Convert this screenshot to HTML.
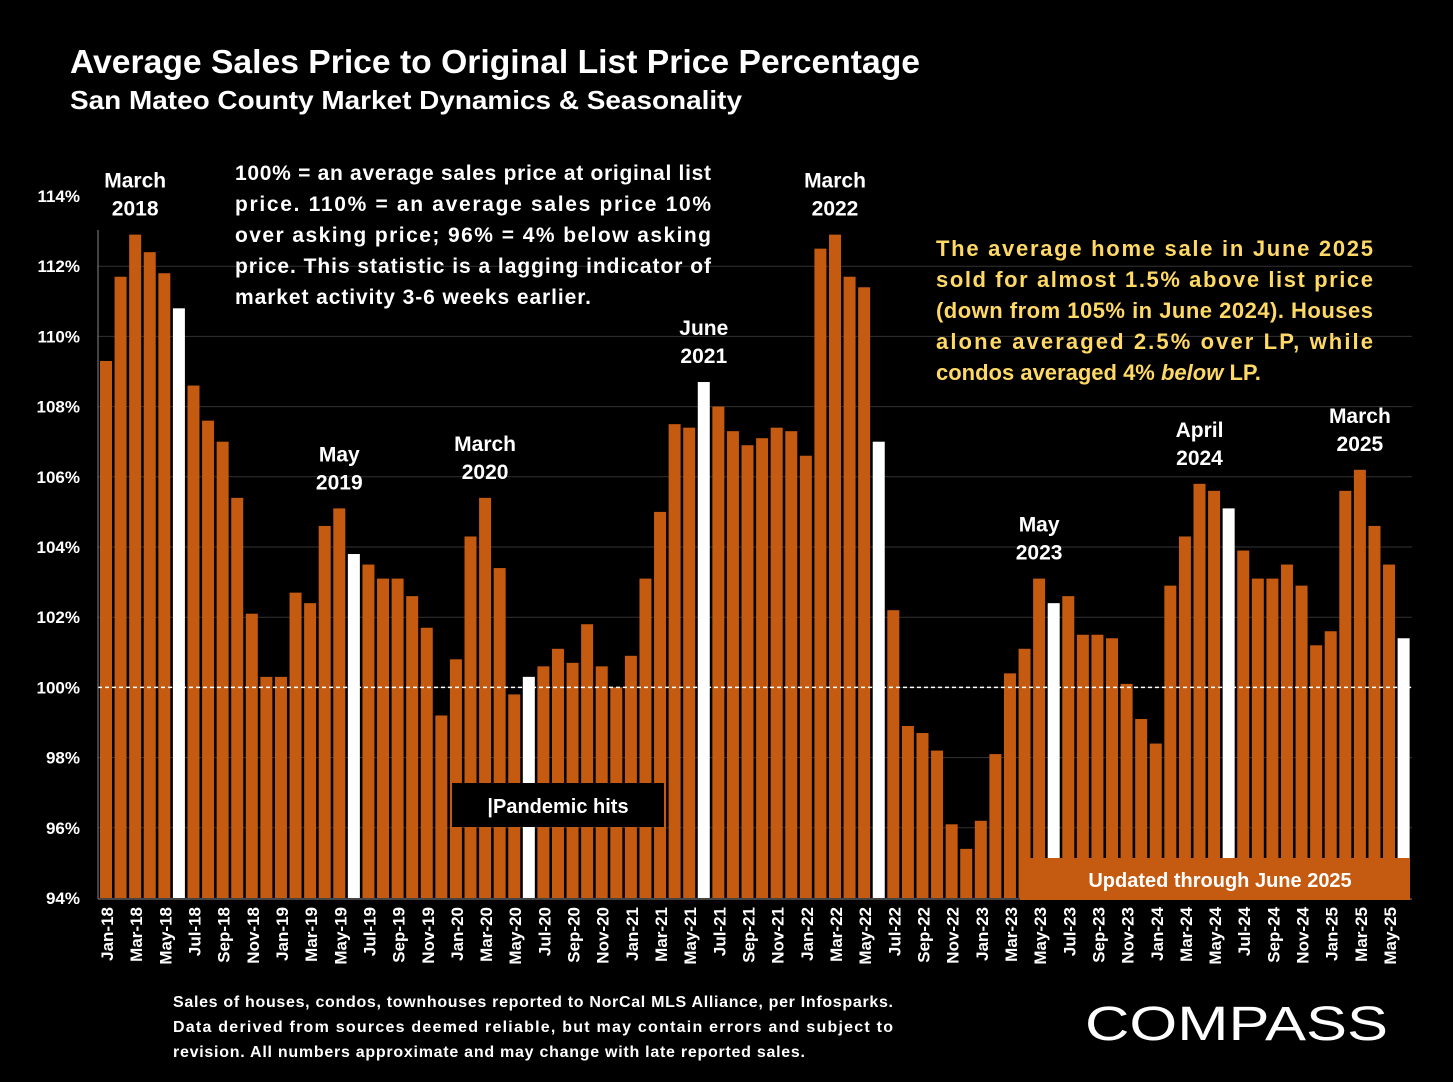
<!DOCTYPE html>
<html><head><meta charset="utf-8"><style>
body{margin:0;background:#000;width:1453px;height:1082px;overflow:hidden;font-family:"Liberation Sans",sans-serif;color:#fff}
svg{position:absolute;left:0;top:0}
</style></head><body>
<svg width="1453" height="1082" id="svg" xmlns="http://www.w3.org/2000/svg">
<text x="70" y="73" font-size="33" font-weight="bold" fill="#fff" textLength="850" lengthAdjust="spacingAndGlyphs">Average Sales Price to Original List Price Percentage</text>
<text x="70" y="109" font-size="26" font-weight="bold" fill="#fff" textLength="672" lengthAdjust="spacingAndGlyphs">San Mateo County Market Dynamics &amp; Seasonality</text>
<g id="grid"></g><g id="bars"></g><g id="labels"></g>
<rect x="452" y="783" width="212" height="44" fill="#000"/>
<text x="558" y="813" font-size="20" font-weight="bold" fill="#fff" text-anchor="middle">|Pandemic hits</text>
<rect x="1020" y="858" width="390" height="42" fill="#C55A11"/>
<text x="1220" y="887" font-size="20" font-weight="bold" fill="#fff" text-anchor="middle">Updated through June 2025</text>
<g font-size="21" font-weight="bold" fill="#fff">
<text x="235" y="180" textLength="476">100% = an average sales price at original list</text>
<text x="235" y="211" textLength="476">price. 110% = an average sales price 10%</text>
<text x="235" y="242" textLength="476">over asking price; 96% = 4% below asking</text>
<text x="235" y="273" textLength="476">price. This statistic is a lagging indicator of</text>
<text x="235" y="304" textLength="356">market activity 3-6 weeks earlier.</text>
</g>
<g font-size="22" font-weight="bold" fill="#FFD966">
<text x="936" y="256" textLength="437">The average home sale in June 2025</text>
<text x="936" y="287" textLength="437">sold for almost 1.5% above list price</text>
<text x="936" y="318" textLength="437">(down from 105% in June 2024). Houses</text>
<text x="936" y="349" textLength="437">alone averaged 2.5% over LP, while</text>
<text x="936" y="380">condos averaged 4% <tspan font-style="italic">below</tspan> LP.</text>
</g>
<g font-size="16" font-weight="bold" fill="#fff">
<text x="173" y="1007" textLength="720">Sales of houses, condos, townhouses reported to NorCal MLS Alliance, per Infosparks.</text>
<text x="173" y="1032" textLength="720">Data derived from sources deemed reliable, but may contain errors and subject to</text>
<text x="173" y="1057" textLength="632">revision. All numbers approximate and may change with late reported sales.</text>
</g>
<text x="1085" y="1040" font-size="48" fill="#fff" textLength="303" lengthAdjust="spacingAndGlyphs">COMPASS</text>
</svg>
<script>
const values=[109.3,111.7,112.9,112.4,111.8,110.8,108.6,107.6,107.0,105.4,102.1,100.3,
100.3,102.7,102.4,104.6,105.1,103.8,103.5,103.1,103.1,102.6,101.7,99.2,
100.8,104.3,105.4,103.4,99.8,100.3,100.6,101.1,100.7,101.8,100.6,100.0,
100.9,103.1,105.0,107.5,107.4,108.7,108.0,107.3,106.9,107.1,107.4,107.3,
106.6,112.5,112.9,111.7,111.4,107.0,102.2,98.9,98.7,98.2,96.1,95.4,
96.2,98.1,100.4,101.1,103.1,102.4,102.6,101.5,101.5,101.4,100.1,99.1,
98.4,102.9,104.3,105.8,105.6,105.1,103.9,103.1,103.1,103.5,102.9,101.2,
101.6,105.6,106.2,104.6,103.5,101.4];
const months=['Jan','Feb','Mar','Apr','May','Jun','Jul','Aug','Sep','Oct','Nov','Dec'];
const yTicks=[94,96,98,100,102,104,106,108,110,112,114];
const annotations=[[2,'March','2018'],[16,'May','2019'],[26,'March','2020'],[41,'June','2021'],[50,'March','2022'],[64,'May','2023'],[75,'April','2024'],[86,'March','2025']];
const NS='http://www.w3.org/2000/svg';
const y=v=>898-(v-94)*35.1;
const x=i=>100+i*14.58;
function mk(t,a,p){const e=document.createElementNS(NS,t);for(const k in a)e.setAttribute(k,a[k]);p.appendChild(e);return e;}
const grid=document.getElementById('grid'),bars=document.getElementById('bars'),labels=document.getElementById('labels');
yTicks.forEach(t=>{
  if(t>94&&t<114){const l=mk('line',{x1:98,x2:1412,y1:y(t),y2:y(t),stroke:'#333','stroke-width':1},grid);
  
  }
  const tx=mk('text',{x:80,y:y(t)+6,'font-size':17,'font-weight':'bold',fill:'#fff','text-anchor':'end'},labels);
  tx.textContent=t+'%';
  
  
});
values.forEach((v,i)=>{
  const r=mk('rect',{x:x(i),y:Math.min(y(v),898),width:12,height:Math.abs(898-y(v)),fill:(i%12==5)?'#fff':'#C55A11'},bars);
  
  
  if(i%2==0){const t=mk('text',{transform:`translate(${x(i)+13},${907}) rotate(-90)`,'font-size':17,'font-weight':'bold',fill:'#fff','text-anchor':'end'},labels);
  t.textContent=months[i%12]+'-'+(18+Math.floor(i/12));
  
  }
});
const ref=mk('line',{x1:98,x2:1412,y1:y(100),y2:y(100),stroke:'#fff','stroke-width':1.5,'stroke-dasharray':'4,3'},bars);


const ax=mk('line',{x1:98,x2:98,y1:230,y2:899,stroke:'#888'},bars);


const bx=mk('line',{x1:98,x2:1412,y1:899,y2:899,stroke:'#888'},bars);


annotations.forEach(a=>{
  const cx=x(a[0])+6,top=y(values[a[0]]);
  [a[1],a[2]].forEach((s,k)=>{
    const t=mk('text',{x:cx,y:top-47+k*28,'font-size':21,'font-weight':'bold',fill:'#fff','text-anchor':'middle'},labels);
    t.textContent=s;
    
    
  });
});
</script>
</body></html>
